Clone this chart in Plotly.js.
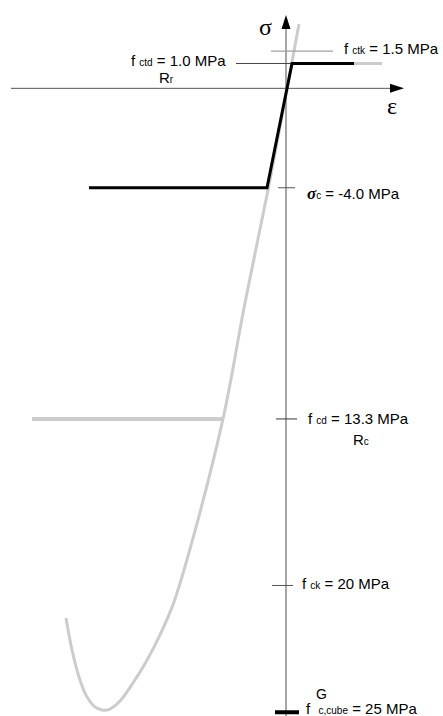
<!DOCTYPE html>
<html>
<head>
<meta charset="utf-8">
<script src="https://cdn.plot.ly/plotly-3.0.1.min.js"></script>
<style>html,body{margin:0;padding:0;background:#fff;}#chart{width:443px;height:716px;}</style>
</head>
<body>
<div id="chart"></div>
<script>
// ---- data (strain ε in ‰-like drawing units, stress σ in MPa, tension positive) ----
const designEps = [-3.94, -0.38, 0.12, 1.36];
const designSig = [-4.0, -4.0, 1.0, 1.0];

const curveEps = [0.26, -0.36, -0.82, -1.26, -1.87, -2.24, -2.52, -2.80, -3.06, -3.32, -3.52, -3.68, -3.84, -4.00, -4.14, -4.28, -4.40];
const curveSig = [2.59, -4.09, -8.63, -13.3, -18.17, -20.66, -21.99, -23.08, -23.92, -24.65, -24.97, -25.01, -24.85, -24.41, -23.68, -22.59, -21.31];

const tensionPlateauEps = [0.12, 1.92];
const tensionPlateauSig = [1.0, 1.0];

const fcdPlateauEps = [-5.08, -1.26];
const fcdPlateauSig = [-13.3, -13.3];

const levelNames = ['fctk', 'fctd', 'sigc', 'fcd', 'fck', 'fcube'];
const levelValues = [1.5, 1.0, -4.0, -13.3, -20, -25.1];
const levelTickFrom = [-0.30, -1.00, -0.16, -0.20, -0.28, -0.22];
const levelTickTo = [0.94, 0.12, 0.18, 0.22, 0.14, 0.26];

const epsRange = [-5.72, 3.14];
const sigRange = [-25.251, 3.554];
const axisEpsStart = -5.5, axisEpsTip = 2.36;
const axisSigTip = 2.95, axisSigBottom = -25.251;

const traces = [];
// gray tension plateau and characteristic curve
traces.push({x: tensionPlateauEps, y: tensionPlateauSig, mode: 'lines', line: {color: '#cccccc', width: 3}, hoverinfo: 'skip'});
traces.push({x: fcdPlateauEps, y: fcdPlateauSig, mode: 'lines', line: {color: '#cccccc', width: 4}, hoverinfo: 'skip'});
traces.push({x: curveEps, y: curveSig, mode: 'lines', line: {color: '#cccccc', width: 3, shape: 'spline', smoothing: 1}, hoverinfo: 'skip'});
// axes lines
traces.push({x: [axisEpsStart, axisEpsTip - 0.2], y: [0, 0], mode: 'lines', line: {color: '#555555', width: 1}, hoverinfo: 'skip'});
traces.push({x: [0, 0], y: [axisSigTip - 0.45, axisSigBottom], mode: 'lines', line: {color: '#a6a6a6', width: 2}, hoverinfo: 'skip'});
// level ticks
const tickColors = ['#a0a0a0', '#444444', '#555555', '#333333', '#555555', '#000000'];
const tickWidths = [1.2, 1, 1, 1, 1, 4];
levelValues.forEach((v, i) => {
  traces.push({x: [levelTickFrom[i], levelTickTo[i]], y: [v, v], mode: 'lines',
    line: {color: tickColors[i], width: tickWidths[i]}, hoverinfo: 'skip'});
});
// design (black) law
traces.push({x: designEps, y: designSig, mode: 'lines', line: {color: '#000000', width: 3}, hoverinfo: 'skip'});

const F = 'Liberation Sans, Arial, sans-serif';
const sub = s => '<span style="font-size:10px">' + s + '</span>';
const ann = (x, y, text, opts) => Object.assign({x: x, y: y, xref: 'x', yref: 'y', text: text, showarrow: false,
  font: {family: F, size: 15, color: '#000'}, xanchor: 'left', yanchor: 'middle'}, opts || {});

const annotations = [
  ann(1.12, levelValues[0], 'f ' + sub('ctk') + ' = 1.5 MPa', {yshift: 3}),
  ann(-1.16, levelValues[1], 'f ' + sub('ctd') + ' = 1.0 MPa', {xanchor: 'right', yshift: 3}),
  ann(-2.4, levelValues[1], 'R' + sub('r'), {xanchor: 'center', yshift: -14}),
  ann(0.38, levelValues[2], '<span style="font-family:Liberation Serif, serif;font-weight:bold;font-style:italic;font-size:17px">σ</span>' + sub('c') + ' = -4.0 MPa', {yshift: -6}),
  ann(0.40, levelValues[3], 'f ' + sub('cd') + ' = 13.3 MPa', {yshift: 0}),
  ann(1.5, levelValues[3], 'R' + sub('c'), {xanchor: 'center', yshift: -21}),
  ann(0.28, levelValues[4], 'f ' + sub('ck') + ' = 20 MPa', {yshift: 2}),
  ann(0.36, levelValues[5], 'f &nbsp;' + sub('c,cube') + ' = 25 MPa', {yshift: 4}),
  ann(0.56, levelValues[5], 'G', {yshift: 18, font: {family: F, size: 14, color: '#000'}}),
  ann(-0.42, axisSigTip, 'σ', {xanchor: 'center', yshift: -12, font: {family: 'Liberation Serif, serif', size: 24, color: '#000'}}),
  ann(2.12, 0, 'ε', {xanchor: 'center', yshift: -18, font: {family: 'Liberation Serif, serif', size: 24, color: '#000'}})
];

const shapes = [
  {type: 'path', xref: 'x', yref: 'y', xsizemode: 'pixel', ysizemode: 'pixel', xanchor: axisEpsTip, yanchor: 0,
   path: 'M0,0 L-14,4.5 L-14,-4.5 Z', fillcolor: '#000', line: {width: 0}},
  {type: 'path', xref: 'x', yref: 'y', xsizemode: 'pixel', ysizemode: 'pixel', xanchor: 0, yanchor: axisSigTip,
   path: 'M0,0 L-4.5,-14 L4.5,-14 Z', fillcolor: '#000', line: {width: 0}}
];

const layout = {
  width: 443, height: 716,
  margin: {l: 0, r: 0, t: 0, b: 0},
  paper_bgcolor: '#fff', plot_bgcolor: '#fff',
  showlegend: false,
  xaxis: {range: epsRange, visible: false, fixedrange: true},
  yaxis: {range: sigRange, visible: false, fixedrange: true},
  annotations: annotations,
  shapes: shapes
};

Plotly.newPlot('chart', traces, layout, {displayModeBar: false, staticPlot: true});
</script>
</body>
</html>
